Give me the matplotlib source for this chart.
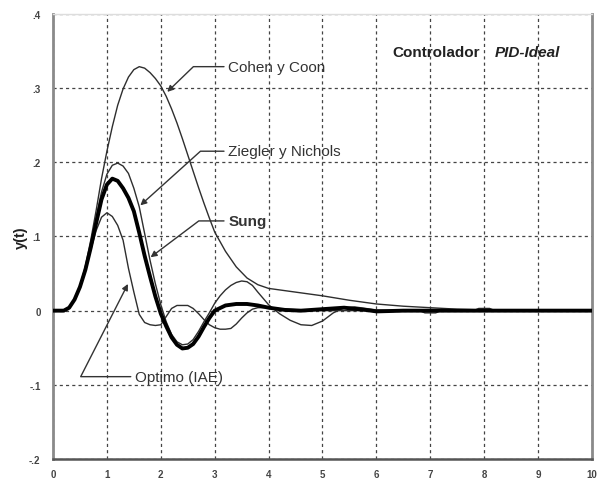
import matplotlib
matplotlib.use("Agg")
import matplotlib.pyplot as plt

plt.rcParams['font.family'] = ['Liberation Sans', 'DejaVu Sans']

# Closed-loop step responses y(t) for the PID-Ideal tuning rules
t_cohen = [0, 0.2, 0.3, 0.4, 0.5, 0.6, 0.7, 0.8, 0.9, 1.0, 1.1, 1.2, 1.3, 1.4,
           1.5, 1.6, 1.7, 1.8, 1.9, 2.0, 2.1, 2.2, 2.3, 2.4, 2.5, 2.6, 2.7,
           2.8, 2.9, 3.0, 3.2, 3.4, 3.6, 3.8, 4.0, 4.5, 5.0, 5.5, 6.0, 6.5,
           7.0, 7.5, 8.0, 9.0, 10.0]
y_cohen = [0, 0, 0.004, 0.015, 0.033, 0.06, 0.095, 0.135, 0.178, 0.215, 0.248,
           0.277, 0.299, 0.315, 0.325, 0.329, 0.327, 0.321, 0.313, 0.303,
           0.289, 0.272, 0.253, 0.232, 0.21, 0.188, 0.166, 0.145, 0.125,
           0.106, 0.08, 0.059, 0.044, 0.035, 0.03, 0.025, 0.02, 0.014, 0.009,
           0.006, 0.004, 0.002, 0.001, 0, 0]

t_zn = [0, 0.2, 0.3, 0.4, 0.5, 0.6, 0.7, 0.8, 0.9, 1.0, 1.1, 1.2, 1.3, 1.4,
        1.5, 1.6, 1.7, 1.8, 1.9, 2.0, 2.1, 2.2, 2.3, 2.4, 2.5, 2.6, 2.7, 2.8,
        2.9, 3.0, 3.1, 3.2, 3.3, 3.4, 3.5, 3.6, 3.7, 3.8, 4.0, 4.2, 4.4, 4.6,
        4.8, 5.0, 5.2, 5.4, 5.6, 5.8, 6.0, 6.5, 7.0, 8.0, 9.0, 10.0]
y_zn = [0, 0, 0.004, 0.015, 0.033, 0.058, 0.09, 0.126, 0.16, 0.184, 0.196,
        0.199, 0.195, 0.185, 0.165, 0.14, 0.104, 0.068, 0.036, 0.008, -0.015,
        -0.032, -0.042, -0.046, -0.045, -0.039, -0.028, -0.015, -0.003, 0.01,
        0.02, 0.028, 0.034, 0.038, 0.04, 0.039, 0.034, 0.025, 0.008, -0.004,
        -0.013, -0.019, -0.02, -0.014, -0.003, 0.004, 0.005, 0.003, 0.001,
        0, 0, 0, 0, 0]

t_sung = [0, 0.2, 0.3, 0.4, 0.5, 0.6, 0.7, 0.8, 0.9, 1.0, 1.1, 1.2, 1.3, 1.4,
          1.5, 1.6, 1.7, 1.8, 1.9, 2.0, 2.1, 2.2, 2.3, 2.4, 2.5, 2.6, 2.7,
          2.8, 2.9, 3.0, 3.2, 3.4, 3.6, 3.8, 4.0, 4.3, 4.6, 5.0, 5.4, 5.8,
          6.0, 6.5, 7.0, 8.0, 9.0, 10.0]
y_sung = [0, 0, 0.004, 0.015, 0.032, 0.055, 0.085, 0.118, 0.15, 0.17, 0.178,
          0.175, 0.165, 0.152, 0.134, 0.105, 0.074, 0.046, 0.019, -0.004,
          -0.021, -0.036, -0.046, -0.051, -0.05, -0.045, -0.035, -0.022,
          -0.01, 0, 0.007, 0.009, 0.009, 0.007, 0.004, 0.001, 0, 0.002, 0.004,
          0.001, -0.001, 0, 0, 0, 0, 0]

t_opt = [0, 0.2, 0.3, 0.4, 0.5, 0.6, 0.7, 0.8, 0.9, 1.0, 1.1, 1.2, 1.3, 1.4,
         1.5, 1.6, 1.7, 1.8, 1.9, 2.0, 2.1, 2.2, 2.3, 2.5, 2.6, 2.7, 2.8, 2.9,
         3.0, 3.1, 3.2, 3.3, 3.4, 3.5, 3.6, 3.7, 3.8, 4.0, 4.3, 4.6, 5.0,
         6.0, 6.8, 6.9, 7.1, 7.2, 7.8, 7.9, 8.1, 8.2, 9.0, 10.0]
y_opt = [0, 0, 0.004, 0.015, 0.032, 0.055, 0.082, 0.108, 0.126, 0.132, 0.127,
         0.115, 0.095, 0.057, 0.025, -0.005, -0.016, -0.019, -0.02, -0.019,
         -0.008, 0.003, 0.007, 0.007, 0.003, -0.004, -0.012, -0.019, -0.023,
         -0.025, -0.025, -0.024, -0.018, -0.01, -0.003, 0.002, 0.004, 0.004,
         0.002, 0.001, 0, 0, 0, -0.003, -0.003, 0, 0, 0.003, 0.003, 0, 0, 0]

x_ticks = [0, 1, 2, 3, 4, 5, 6, 7, 8, 9, 10]
x_ticklabels = ['0', '1', '2', '3', '4', '5', '6', '7', '8', '9', '10']
y_ticks = [-0.2, -0.1, 0, 0.1, 0.2, 0.3, 0.4]
y_ticklabels = ['-.2', '-.1', '0', '.1', '.2', '.3', '.4']

fig = plt.figure(figsize=(5.97, 4.81), dpi=100)
ax = fig.add_axes([0.0888, 0.0437, 0.9028, 0.9251])

line_col = '#2e2e2e'
ax.plot(t_cohen, y_cohen, color=line_col, lw=1.0, zorder=3)
ax.plot(t_zn, y_zn, color=line_col, lw=1.0, zorder=3)
ax.plot(t_opt, y_opt, color=line_col, lw=1.0, zorder=3)
ax.plot(t_sung, y_sung, color='#000000', lw=2.8, zorder=4)

ax.set_xlim(0, 10)
ax.set_ylim(-0.2, 0.4)
ax.set_xticks(x_ticks)
ax.set_xticklabels(x_ticklabels, fontweight='bold')
ax.set_yticks(y_ticks)
ax.set_yticklabels(y_ticklabels, fontweight='bold')
ax.tick_params(axis='both', length=0, labelsize=7, colors='#444444')
ax.tick_params(axis='x', pad=7)
ax.tick_params(axis='y', pad=9)

ax.grid(True, color='#444444', linestyle=(0, (2.5, 2.5)), lw=0.9)
ax.set_axisbelow(True)

ax.spines['left'].set_color('#8a8a8a')
ax.spines['left'].set_linewidth(2.0)
ax.spines['bottom'].set_color('#555555')
ax.spines['bottom'].set_linewidth(1.8)
ax.spines['right'].set_color('#8a8a8a')
ax.spines['right'].set_linewidth(2.0)
ax.spines['top'].set_color('#dddddd')
ax.spines['top'].set_linewidth(1.0)

ax.set_ylabel('y(t)', fontsize=10.5, fontweight='bold', color='#222222',
              labelpad=1)

# Curve labels with bent leader arrows
arrow_kw = dict(arrowstyle='-|>', mutation_scale=9, lw=1.0, color='#333333',
                shrinkA=1, shrinkB=0, relpos=(0, 0.5))
labels = [
    ('Cohen y Coon', (2.12, 0.295), (3.25, 0.329), 44, 'normal'),
    ('Ziegler y Nichols', (1.62, 0.142), (3.25, 0.215), 42, 'normal'),
    ('Sung', (1.81, 0.072), (3.25, 0.121), 37, 'bold'),
    ('Optimo (IAE)', (1.39, 0.036), (1.52, -0.089), 63, 'normal'),
]
for text, tip, pos, ang, weight in labels:
    kw = dict(arrow_kw)
    kw['connectionstyle'] = 'angle,angleA=0,angleB=%d,rad=0' % ang
    ax.annotate(text, xy=tip, xytext=pos, ha='left', va='center',
                fontsize=11, fontweight=weight, color='#333333',
                arrowprops=kw, zorder=5)

ax.text(6.29, 0.349, 'Controlador', fontsize=11, fontweight='bold',
        color='#222222', ha='left', va='center')
ax.text(8.2, 0.349, 'PID-Ideal', fontsize=11, fontweight='bold',
        fontstyle='italic', color='#222222', ha='left', va='center')

fig.savefig('out.png', dpi=100)
